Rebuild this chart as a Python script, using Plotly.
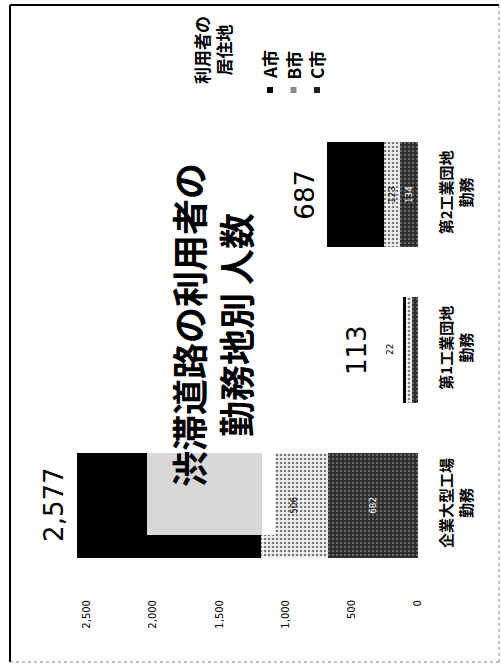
import plotly.graph_objects as go

# ---- data ----
categories = ["企業大型工場<br>勤務", "第1工業団地<br>勤務", "第2工業団地<br>勤務"]
series_names = ["A市", "B市", "C市"]
city_a = [1389, 22, 430]
city_b = [506, 48, 123]
city_c = [682, 43, 134]
tick_values = [0, 500, 1000, 1500, 2000, 2500]
tick_labels = ["0", "500", "1,000", "1,500", "2,000", "2,500"]
title_lines = ["渋滞道路の利用者の", "勤務地別 人数"]
legend_title_lines = ["利用者の", "居住地"]

totals = [a + b + c for a, b, c in zip(city_a, city_b, city_c)]

# ---- layout geometry (page pixels) ----
W, H = 501, 664
L, R, T, B = 47, 418, 117, 583


def px_x(X):
    return (X - L) / (R - L)


def px_y(Y):
    return (B - Y) / (B - T)


JP = "Noto Sans CJK JP"
NUM = "DejaVu Sans"

styles = {
    "A市": dict(color="#000000"),
    "B市": dict(color="#eeeeee",
               pattern=dict(shape=".", fgcolor="#000000", bgcolor="#f4f4f4", size=4, solidity=0.33)),
    "C市": dict(color="#2e2e2e",
               pattern=dict(shape=".", fgcolor="#a0a0a0", bgcolor="#2a2a2a", size=4, solidity=0.3)),
}

fig = go.Figure()

# stacked from zero: C, then B, then A
fig.add_bar(
    y=categories, x=city_c, orientation="h", name=series_names[2],
    marker=dict(**styles["C市"], line=dict(width=0)),
    text=[f"{v:,}" for v in city_c], textposition="inside", insidetextanchor="middle",
    textangle=-90, textfont=dict(color="white", size=12, family=NUM),
)
fig.add_bar(
    y=categories, x=city_b, orientation="h", name=series_names[1],
    marker=dict(**styles["B市"], line=dict(width=0)),
    text=[f"{v:,}" for v in city_b], textposition="inside", insidetextanchor="middle",
    textangle=-90, textfont=dict(color="black", size=12, family=NUM),
)
fig.add_bar(
    y=categories, x=city_a, orientation="h", name=series_names[0],
    marker=dict(**styles["A市"], line=dict(width=0)),
)

annotations = []
# totals
for i, (cat, tot) in enumerate(zip(categories, totals)):
    shift = -22 if city_a[i] > 100 else -46
    annotations.append(dict(
        x=tot, y=cat, xref="x", yref="y", text=f"{tot:,}", showarrow=False,
        textangle=-90, xanchor="center", yanchor="middle", xshift=shift,
        font=dict(family=NUM, size=26, color="black"),
    ))
# small A label outside the thin bar
for i, (cat, a) in enumerate(zip(categories, city_a)):
    if a < 100:
        annotations.append(dict(
            x=totals[i], y=cat, xref="x", yref="y", text=f"{a:,}", showarrow=False,
            textangle=-90, xanchor="center", yanchor="middle", xshift=-13,
            font=dict(family=NUM, size=9, color="black"),
        ))
# title
annotations.append(dict(
    x=px_x(211), y=px_y(325), xref="paper", yref="paper",
    text="<br>".join(title_lines), showarrow=False, textangle=-90,
    xanchor="center", yanchor="middle", align="center",
    font=dict(family=JP, size=36, color="black", weight="bold"),
))
# legend title
annotations.append(dict(
    x=px_x(212), y=px_y(50), xref="paper", yref="paper",
    text="<br>".join(legend_title_lines), showarrow=False, textangle=-90,
    xanchor="center", yanchor="middle", align="center",
    font=dict(family=JP, size=17, color="black", weight="bold"),
))

shapes = []
legend_fill = ["#000000", "#8a8a8a", "#1e1e1e"]
for i, name in enumerate(series_names):
    cx = 270 + i * 23.5
    annotations.append(dict(
        x=px_x(cx), y=px_y(65), xref="paper", yref="paper", text=name,
        showarrow=False, textangle=-90, xanchor="center", yanchor="middle",
        font=dict(family=JP, size=17, color="black", weight="bold"),
    ))
    shapes.append(dict(
        type="rect", xref="paper", yref="paper",
        x0=px_x(cx - 3), x1=px_x(cx + 3), y0=px_y(87), y1=px_y(93),
        fillcolor=legend_fill[i], line=dict(width=0),
    ))

# title text box overlapping the first bar
shapes.append(dict(type="rect", xref="paper", yref="paper",
                   x0=px_x(147), x1=px_x(262), y0=px_y(535), y1=px_y(453),
                   fillcolor="#d8d8d8", line=dict(width=0), layer="above"))
shapes.append(dict(type="rect", xref="paper", yref="paper",
                   x0=px_x(262), x1=px_x(275), y0=px_y(535), y1=px_y(453),
                   fillcolor="#ffffff", line=dict(width=0), layer="above"))

# frame
shapes.append(dict(type="line", xref="paper", yref="paper",
                   x0=px_x(10), x1=px_x(10), y0=px_y(5), y1=px_y(662),
                   line=dict(color="black", width=2)))
shapes.append(dict(type="line", xref="paper", yref="paper",
                   x0=px_x(10), x1=px_x(499), y0=px_y(5), y1=px_y(5),
                   line=dict(color="black", width=2)))
shapes.append(dict(type="line", xref="paper", yref="paper",
                   x0=px_x(499), x1=px_x(499), y0=px_y(5), y1=px_y(662),
                   line=dict(color="#888888", width=1, dash="dot")))
shapes.append(dict(type="line", xref="paper", yref="paper",
                   x0=px_x(10), x1=px_x(499), y0=px_y(662), y1=px_y(662),
                   line=dict(color="#888888", width=1, dash="dot")))

fig.update_layout(
    width=W, height=H,
    margin=dict(l=L, r=W - R, t=T, b=H - B, pad=0),
    barmode="stack", bargap=0.32,
    showlegend=False,
    paper_bgcolor="white", plot_bgcolor="white",
    uniformtext=dict(minsize=8, mode="hide"),
    annotations=annotations, shapes=shapes,
    xaxis=dict(
        range=[2800, 0], autorange=False,
        tickvals=tick_values, ticktext=tick_labels, tickangle=-90,
        tickfont=dict(family=NUM, size=10, color="black"),
        showgrid=False, zeroline=False, showline=False, ticks="",
        ticklabelstandoff=14,
    ),
    yaxis=dict(
        side="right", tickangle=-90,
        tickfont=dict(family=JP, size=15, color="black", weight="bold"),
        showgrid=False, zeroline=False, showline=False, ticks="",
        ticklabelstandoff=18,
    ),
)

fig.write_html("out.html", config={"displayModeBar": False},
               post_script="document.body.style.margin='0px';")
